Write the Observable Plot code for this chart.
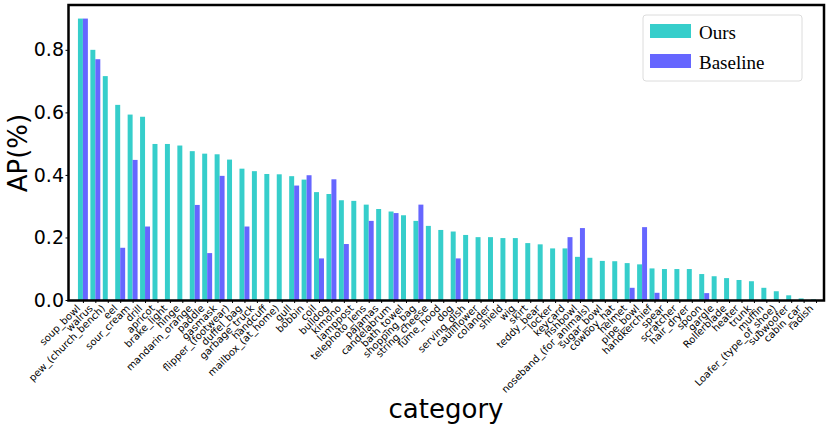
<!DOCTYPE html>
<html>
<head>
<meta charset="utf-8">
<script src="https://cdn.jsdelivr.net/npm/d3@7"></script>
<script src="https://cdn.jsdelivr.net/npm/@observablehq/plot@0.6"></script>
<style>
  html, body { margin: 0; padding: 0; background: #fff; }
  #chart { position: relative; width: 831px; height: 430px; }
</style>
</head>
<body>
<div id="chart"></div>
<script>
const categories = [
  "soup_bowl","walrus","pew_(church_bench)","eel","sour_cream","drill","apricot","brake_light","hinge","mandarin_orange",
  "paddle","gasmask","flipper_(footwear)","duffel_bag","garbage_truck","handcuff","mailbox_(at_home)","gull","bobbin","coil",
  "bulldog","kimono","lamppost","telephoto_lens","pajamas","candelabrum","bath_towel","shopping_bag","string_cheese","fume_hood",
  "dog","serving_dish","cauliflower","colander","shield","wig","skirt","teddy_bear","locker","keycard",
  "fishbowl","noseband_(for_animals)","sugar_bowl","cowboy_hat","helmet","pipe_bowl","handkerchief","spear","scratcher","hair_dryer",
  "spoon","gargle","Rollerblade","heater","trunk","muffin","Loafer_(type_of_shoe)","subwoofer","cabin_car","radish"
];
const ours = [
  0.900,0.800,0.716,0.624,0.593,0.586,0.499,0.499,0.494,0.476,
  0.468,0.466,0.449,0.420,0.412,0.403,0.402,0.396,0.385,0.345,
  0.339,0.319,0.317,0.305,0.291,0.283,0.271,0.253,0.237,0.224,
  0.219,0.208,0.201,0.201,0.198,0.198,0.182,0.178,0.165,0.165,
  0.138,0.135,0.125,0.124,0.118,0.114,0.101,0.099,0.099,0.099,
  0.083,0.076,0.070,0.064,0.060,0.039,0.028,0.015,0.005,0.002
];
const baseline = [
  0.900,0.770,null,0.167,0.448,0.235,null,null,null,0.304,
  0.150,0.397,null,0.235,null,null,null,0.366,0.399,0.133,
  0.386,0.179,null,0.253,null,0.278,null,0.305,null,null,
  0.133,null,null,null,null,null,null,null,null,0.201,
  0.230,null,null,null,0.039,0.233,0.023,null,null,null,
  0.022,null,null,null,null,null,null,null,null,null
];
const yTicks = [0, 0.2, 0.4, 0.6, 0.8];
const seriesNames = ["Ours", "Baseline"];
const seriesColors = ["#36cecb", "#6666ff"];

const rows = categories.map((c, i) => ({i, c, ours: ours[i], base: baseline[i]}));
const barW = 0.4;

const plot = Plot.plot({
  width: 831,
  height: 430,
  marginLeft: 68,
  marginRight: 7.5,
  marginTop: 4.5,
  marginBottom: 130,
  style: {fontFamily: "DejaVu Sans", background: "#fff", color: "#000"},
  x: {type: "linear", domain: [-1.2, 59.6], axis: null},
  y: {domain: [0, 0.945], axis: null},
  marks: [
    Plot.rect(rows, {x1: d => d.i - barW, x2: d => d.i, y1: d => 0, y2: d => d.ours, fill: seriesColors[0]}),
    Plot.rect(rows.filter(d => d.base != null), {x1: d => d.i, x2: d => d.i + barW, y1: d => 0, y2: d => d.base, fill: seriesColors[1]}),
    Plot.axisY({ticks: yTicks, tickFormat: d3.format(".1f"), tickSize: 2.5, tickPadding: 2, fontSize: 19, label: null}),
    Plot.axisX({ticks: rows.map(d => d.i), tickFormat: () => "", tickSize: 3, label: null}),
    Plot.text(rows, {
      x: "i", y: d => 0, text: "c",
      rotate: -45, textAnchor: "end", lineAnchor: "bottom",
      dx: -2.5, dy: 8.5, fontSize: 10, fill: "#000"
    }),
    Plot.frame({stroke: "#000", strokeWidth: 2.5})
  ]
});

const svg = d3.select(plot);
// axis titles
svg.append("text")
  .attr("transform", "translate(27,153) rotate(-90)")
  .attr("text-anchor", "middle")
  .attr("font-family", "DejaVu Sans")
  .attr("font-size", 26)
  .attr("fill", "#000")
  .text("AP(%)");
svg.append("text")
  .attr("x", 446)
  .attr("y", 418)
  .attr("text-anchor", "middle")
  .attr("font-family", "DejaVu Sans")
  .attr("font-size", 26)
  .attr("fill", "#000")
  .text("category");

// legend
const lg = svg.append("g").attr("transform", "translate(643,15)");
lg.append("rect").attr("width", 159).attr("height", 66).attr("rx", 3)
  .attr("fill", "#fff").attr("fill-opacity", 0.8).attr("stroke", "#dcdcdc").attr("stroke-width", 1);
seriesNames.forEach((name, k) => {
  const g = lg.append("g").attr("transform", `translate(7,${9 + k * 30})`);
  g.append("rect").attr("width", 41).attr("height", 14).attr("fill", seriesColors[k]);
  g.append("text").attr("x", 49).attr("y", 14.5)
    .attr("text-anchor", "start")
    .attr("font-family", "Liberation Serif").attr("font-size", 19).attr("fill", "#000")
    .text(name);
});

document.getElementById("chart").appendChild(plot);
</script>
</body>
</html>
